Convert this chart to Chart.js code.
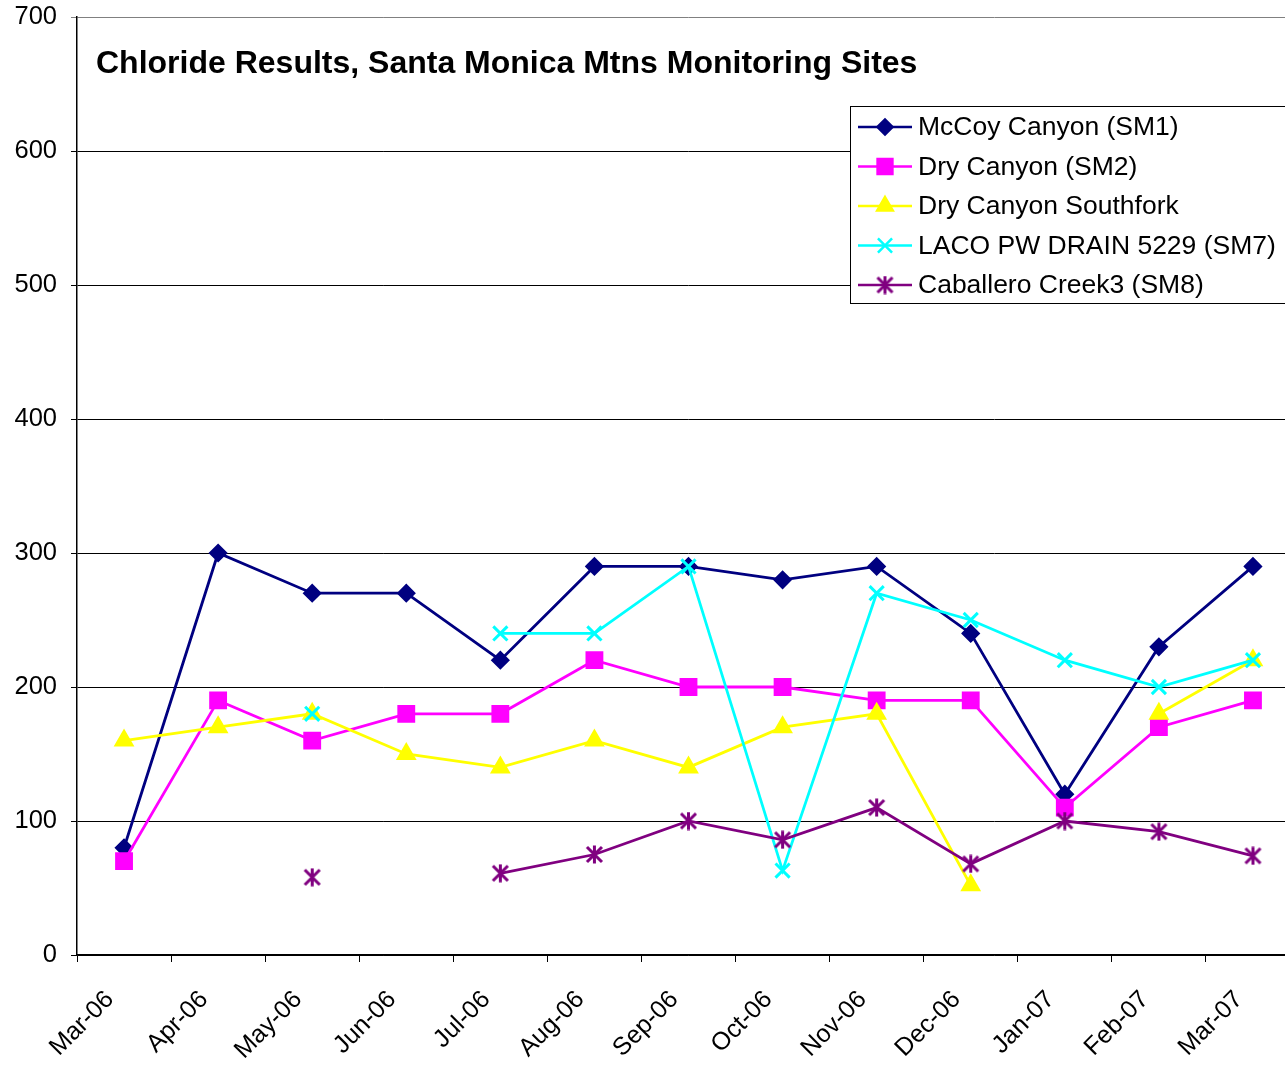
<!DOCTYPE html>
<html>
<head>
<meta charset="utf-8">
<title>Chloride Results</title>
<script src="https://cdn.jsdelivr.net/npm/chart.js@4.4.1/dist/chart.umd.min.js"></script>
<style>
  html, body { margin: 0; padding: 0; background: #fff; overflow: hidden; }
  #wrap { width: 1285px; height: 1065px; overflow: hidden; }
</style>
</head>
<body>
<div id="wrap"><canvas id="chart" width="1300" height="1065"></canvas></div>
<script>
// Monthly sample months
const months = ['Mar-06', 'Apr-06', 'May-06', 'Jun-06', 'Jul-06', 'Aug-06', 'Sep-06',
                'Oct-06', 'Nov-06', 'Dec-06', 'Jan-07', 'Feb-07', 'Mar-07'];

// Chloride (mg/L) per site, null = no sample
const mccoy      = [80, 300, 270, 270, 220, 290, 290, 280, 290, 240, 120, 230, 290];
const dryCanyon  = [70, 190, 160, 180, 180, 220, 200, 200, 190, 190, 110, 170, 190];
const southfork  = [160, 170, 180, 150, 140, 160, 140, 170, 180, 52, null, 180, 220];
const lacoDrain  = [null, null, 180, null, 240, 240, 290, 63, 270, 250, 220, 200, 220];
const caballero  = [null, null, 58, null, 61, 75, 100, 86, 110, 68, 100, 92, 74];

const yTicks = [0, 100, 200, 300, 400, 500, 600, 700];

const FONT = "'Liberation Sans', Arial, sans-serif";

// Excel style asterisk marker (x plus vertical stroke)
function makeAsterisk(color, size) {
    const c = document.createElement('canvas');
    c.width = size; c.height = size;
    const g = c.getContext('2d');
    const m = size / 2, r = size / 2 - 2;
    g.strokeStyle = color;
    g.lineWidth = 3;
    g.beginPath();
    g.moveTo(m - r, m - r); g.lineTo(m + r, m + r);
    g.moveTo(m + r, m - r); g.lineTo(m - r, m + r);
    g.moveTo(m, m - r - 1.5); g.lineTo(m, m + r + 1.5);
    g.stroke();
    return c;
}
const asterisk = makeAsterisk('#800080', 19);

// later series sit on top, so order counts down
function series(label, data, color, style, radius, order) {
    return {
        label: label,
        data: data,
        order: order,
        borderColor: color,
        backgroundColor: color,
        borderWidth: 2.8,
        pointStyle: style,
        pointRadius: radius,
        pointHoverRadius: radius,
        pointBorderWidth: 3,
        pointBackgroundColor: color,
        pointBorderColor: color,
        spanGaps: false,
        tension: 0
    };
}

// Title drawn inside the plot area
const titlePlugin = {
    id: 'plotTitle',
    afterDraw(chart) {
        const ctx = chart.ctx;
        ctx.save();
        ctx.fillStyle = '#000';
        ctx.font = 'bold 32px ' + FONT;
        ctx.textBaseline = 'middle';
        ctx.fillText('Chloride Results, Santa Monica Mtns Monitoring Sites', 96, 64);
        ctx.restore();
    }
};

// Boxed legend in the upper right of the plot
const legendBox = {
    id: 'legendBox',
    afterDraw(chart) {
        const ctx = chart.ctx;
        const left = 850, top = 106, width = 460, height = 197;
        ctx.save();
        ctx.fillStyle = '#fff';
        ctx.fillRect(left, top, width, height);
        ctx.strokeStyle = '#000';
        ctx.lineWidth = 1;
        ctx.strokeRect(left + 0.5, top + 0.5, width, height);
        chart.data.datasets.forEach((ds, i) => {
            const y = 127 + i * 39.5;
            ctx.strokeStyle = ds.borderColor;
            ctx.lineWidth = 2.5;
            ctx.beginPath();
            ctx.moveTo(858, y);
            ctx.lineTo(912, y);
            ctx.stroke();
            ctx.fillStyle = ds.pointBackgroundColor;
            ctx.strokeStyle = ds.pointBorderColor;
            Chart.helpers.drawPoint(ctx, {
                pointStyle: ds.pointStyle, radius: ds.pointRadius,
                borderWidth: ds.pointBorderWidth, rotation: 0
            }, 885, y);
            ctx.fillStyle = '#000';
            ctx.font = '26.5px ' + FONT;
            ctx.textBaseline = 'middle';
            ctx.fillText(ds.label, 918, y + 1);
        });
        ctx.restore();
    }
};

new Chart(document.getElementById('chart'), {
    type: 'line',
    data: {
        labels: months,
        datasets: [
            series('McCoy Canyon (SM1)', mccoy, '#000080', 'rectRot', 7.5, 5),
            series('Dry Canyon (SM2)', dryCanyon, '#FF00FF', 'rect', 10.5, 4),
            series('Dry Canyon Southfork', southfork, '#FFFF00', 'triangle', 9, 3),
            series('LACO PW DRAIN 5229 (SM7)', lacoDrain, '#00FFFF', 'crossRot', 10, 2),
            series('Caballero Creek3 (SM8)', caballero, '#800080', asterisk, 9, 1)
        ]
    },
    options: {
        responsive: false,
        animation: false,
        layout: { autoPadding: false, padding: { top: 17, left: 0, right: 0, bottom: 0 } },
        plugins: {
            legend: { display: false },
            title: { display: false },
            tooltip: { enabled: false }
        },
        scales: {
            x: {
                offset: true,
                afterFit(scale) {
                    scale.height = 110;
                    scale.paddingLeft = 0;
                    scale.paddingRight = 0;
                },
                grid: {
                    offset: true,
                    drawOnChartArea: false,
                    drawTicks: true,
                    tickLength: 7,
                    color: '#000',
                    lineWidth: 1
                },
                border: { color: '#000', width: 1.5 },
                ticks: {
                    color: '#000',
                    font: { family: FONT, size: 25 },
                    minRotation: 45,
                    maxRotation: 45,
                    autoSkip: false,
                    padding: 23,
                    labelOffset: -14
                }
            },
            y: {
                min: 0,
                max: 700,
                afterFit(scale) {
                    scale.width = 77;
                    scale.paddingTop = 0;
                    scale.paddingBottom = 0;
                },
                afterBuildTicks(scale) { scale.ticks = yTicks.map(v => ({ value: v })); },
                grid: {
                    color: c => (c.tick && c.tick.value === 700) ? '#808080' : '#000',
                    lineWidth: 1,
                    tickLength: 6
                },
                border: { color: '#000', width: 1.5 },
                ticks: {
                    color: '#000',
                    font: { family: FONT, size: 25.5 },
                    padding: 14
                }
            }
        }
    },
    plugins: [titlePlugin, legendBox]
});
</script>
</body>
</html>
